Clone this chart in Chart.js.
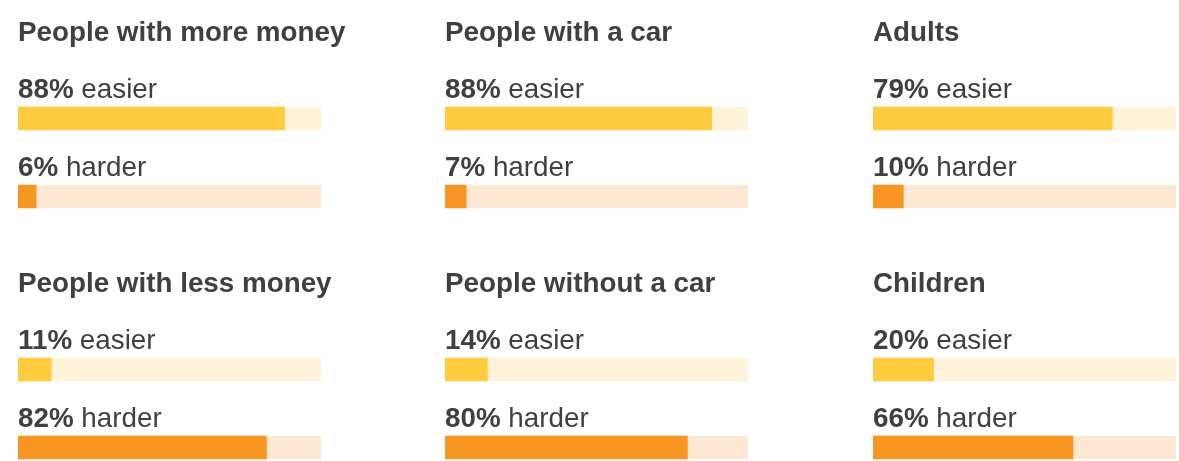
<!DOCTYPE html>
<html>
<head>
<meta charset="utf-8">
<script src="https://cdn.jsdelivr.net/npm/chart.js@4.4.1/dist/chart.umd.min.js"></script>
<style>
  html, body { margin: 0; padding: 0; background: #ffffff; overflow: hidden; }
  #wrap { position: relative; width: 1179px; height: 461px; overflow: hidden; }
  #wrap canvas { position: absolute; }
</style>
</head>
<body>
<div id="wrap"></div>
<script>
// Survey groups and the share who found things easier / harder
const groups = ["People with more money", "People with a car", "Adults",
                "People with less money", "People without a car", "Children"];
const easierPct = [88, 88, 79, 11, 14, 20];
const harderPct = [6, 7, 10, 82, 80, 66];
const answerWords = ["easier", "harder"];
const fullScale = [100, 100];

const TEXT = "#404040";
const FONT = "'Liberation Sans', Arial, Helvetica, sans-serif";
const SIZE = 27.8;
const valueColors = ["#ffcc40", "#f89624"];
const trackColors = ["#fff4d9", "#fde8d3"];

const colX = [18, 445, 873];
const rowY = [0, 251];
const CW = 400, CH = 240, BAR_W = 303;

// Draws the group heading and the "NN% word" line above every bar
const panelText = {
  id: "panelText",
  afterDatasetsDraw(chart, args, opts) {
    const ctx = chart.ctx;
    const bars = chart.getDatasetMeta(0).data;
    const left = chart.chartArea.left;
    ctx.save();
    ctx.fillStyle = TEXT;
    ctx.textBaseline = "alphabetic";
    ctx.textAlign = "left";
    const firstTop = bars[0].y - bars[0].height / 2;
    ctx.font = "bold " + SIZE + "px " + FONT;
    ctx.fillText(opts.heading, left, firstTop - 66);
    bars.forEach((bar, i) => {
      const base = bar.y - bar.height / 2 - 9.5;
      const pct = chart.data.datasets[0].data[i] + "%";
      ctx.font = "bold " + SIZE + "px " + FONT;
      ctx.fillText(pct, left, base);
      const w = ctx.measureText(pct).width;
      ctx.font = SIZE + "px " + FONT;
      ctx.fillText(" " + chart.data.labels[i], left + w, base);
    });
    ctx.restore();
  }
};

const wrap = document.getElementById("wrap");
groups.forEach((name, k) => {
  const cv = document.createElement("canvas");
  cv.width = CW; cv.height = CH;
  cv.style.left = colX[k % 3] + "px";
  cv.style.top = rowY[Math.floor(k / 3)] + "px";
  cv.style.width = CW + "px"; cv.style.height = CH + "px";
  wrap.appendChild(cv);
  new Chart(cv, {
    type: "bar",
    data: {
      labels: answerWords,
      datasets: [
        { data: [easierPct[k], harderPct[k]], backgroundColor: valueColors,
          barThickness: 23, grouped: false, borderWidth: 0 },
        { data: fullScale, backgroundColor: trackColors,
          barThickness: 23, grouped: false, borderWidth: 0 }
      ]
    },
    options: {
      indexAxis: "y",
      responsive: false,
      animation: false,
      devicePixelRatio: 1,
      layout: { padding: { left: 0, right: CW - BAR_W, top: 79.5, bottom: CH - 235.5 } },
      scales: {
        x: { display: false, min: 0, max: 100 },
        y: { display: false }
      },
      plugins: {
        legend: { display: false },
        tooltip: { enabled: false },
        panelText: { heading: name }
      }
    },
    plugins: [panelText]
  });
});
</script>
</body>
</html>
